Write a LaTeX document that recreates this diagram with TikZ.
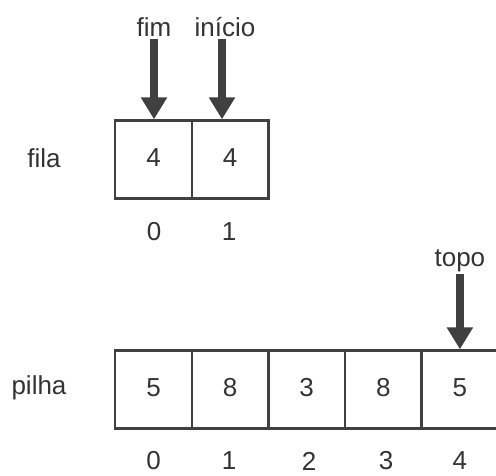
\documentclass[tikz,border=0pt]{standalone}
\usepackage{fontspec}
\setmainfont{Liberation Sans}
\usetikzlibrary{arrows.meta,calc}
\definecolor{ink}{HTML}{404040}
\definecolor{txt}{HTML}{333333}
\tikzset{
  cell/.style={draw=ink, line width=2.4pt, minimum width=76.6pt, minimum height=78pt, inner sep=0pt, text=txt, text height=18.6pt, text depth=5pt, font=\fontsize{26}{30}\selectfont},
  lbl/.style={inner sep=0pt, text=txt, font=\fontsize{26}{30}\selectfont},
  ptr/.style={draw=ink, line width=7.5pt, -{Triangle[width=25pt,length=22pt]}, shorten <=2pt}
}
\begin{document}
\begin{tikzpicture}[x=1pt,y=-1pt]
\useasboundingbox (0,0) rectangle (496,476);
% fila
\node[cell] (q0) at (153.5,159.5) {4};
\node[cell] (q1) at (230.1,159.5) {4};
\node[lbl] (fila) at (44,158) {fila};
\node[lbl] (iq0) at (154,232) {0};
\node[lbl] (iq1) at (229,232) {1};
\node[lbl,anchor=base] (fim) at (154,37) {fim};
\node[lbl,anchor=base] (ini) at (225,37) {início};
\draw[ptr] (fim.south) -- (fim.south |- q0.north);
\draw[ptr] ($(ini.south)+(-3,0)$) -- ($(ini.south |- q1.north)+(-3,0)$);
% pilha
\node[cell] (p0) at (153.5,389.5) {5};
\node[cell] (p1) at (230.1,389.5) {8};
\node[cell] (p2) at (306.7,389.5) {3};
\node[cell] (p3) at (383.3,389.5) {8};
\node[cell] (p4) at (459.9,389.5) {5};
\node[lbl] (pilha) at (39,388) {pilha};
\node[lbl] (ip0) at (153.5,461) {0};
\node[lbl] (ip1) at (229,461) {1};
\node[lbl] (ip2) at (309,461) {2};
\node[lbl] (ip3) at (386,461) {3};
\node[lbl] (ip4) at (459.9,461) {4};
\node[lbl,anchor=base] (topo) at (459.9,266) {topo};
\draw[ptr] (topo.south) -- (topo.south |- p4.north);
\end{tikzpicture}
\end{document}
